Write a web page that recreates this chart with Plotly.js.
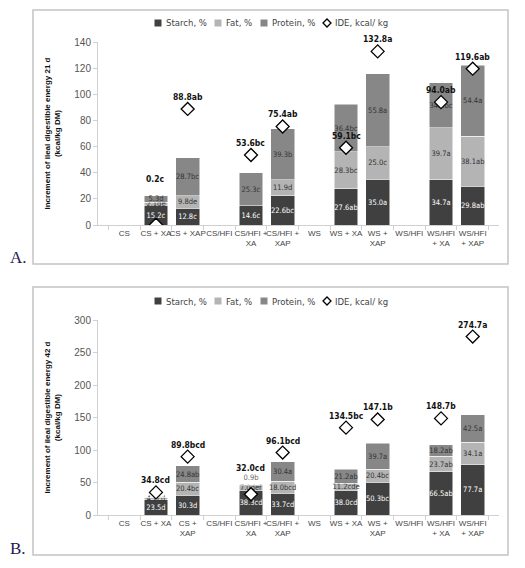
<!DOCTYPE html>
<html>
<head>
<meta charset="utf-8">
<script src="https://cdn.plot.ly/plotly-3.0.1.min.js"></script>
<style>
  body { margin: 0; background: #fff; }
  #chart { width: 525px; height: 568px; }
</style>
</head>
<body>
<div id="chart"></div>
<script>
// categories and tick labels
const categories = ["CS", "CS + XA", "CS + XAP", "CS/HFI", "CS/HFI + XA", "CS/HFI + XAP",
  "WS", "WS + XA", "WS + XAP", "WS/HFI", "WS/HFI + XA", "WS/HFI + XAP"];
const ticksA = ["CS", "CS + XA", "CS + XAP", "CS/HFI", "CS/HFI +<br>XA", "CS/HFI +<br>XAP",
  "WS", "WS + XA", "WS +<br>XAP", "WS/HFI", "WS/HFI<br>+ XA", "WS/HFI<br>+ XAP"];
const ticksB = ["CS", "CS + XA", "CS +<br>XAP", "CS/HFI", "CS/HFI +<br>XA", "CS/HFI +<br>XAP",
  "WS", "WS + XA", "WS +<br>XAP", "WS/HFI", "WS/HFI<br>+ XA", "WS/HFI<br>+ XAP"];

// panel A, 21 d
const starchA = [null, 15.2, 12.8, null, 14.6, 22.6, null, 27.6, 35.0, null, 34.7, 29.8];
const starchA_txt = ["", "15.2c", "12.8c", "", "14.6c", "22.6bc", "", "27.6ab", "35.0a", "", "34.7a", "29.8ab"];
const fatA = [null, 2.1, 9.8, null, 0, 11.9, null, 28.3, 25.0, null, 39.7, 38.1];
const fatA_txt = ["", "2.1de", "9.8de", "", "", "11.9d", "", "28.3bc", "25.0c", "", "39.7a", "38.1ab"];
const proteinA = [null, 5.3, 28.7, null, 25.3, 39.3, null, 36.4, 55.8, null, 34.3, 54.4];
const proteinA_txt = ["", "5.3d", "28.7bc", "", "25.3c", "39.3b", "", "36.4bc", "55.8a", "", "34.3bc", "54.4a"];
const ideA = [null, 0.2, 88.8, null, 53.6, 75.4, null, 59.1, 132.8, null, 94.0, 119.6];
const ideA_txt = ["", "0.2c", "88.8ab", "", "53.6bc", "75.4ab", "", "59.1bc", "132.8a", "", "94.0ab", "119.6ab"];

// panel B, 42 d
const starchB = [null, 23.5, 30.3, null, 38.3, 33.7, null, 38.0, 50.3, null, 66.5, 77.7];
const starchB_txt = ["", "23.5d", "30.3d", "", "38.3cd", "33.7cd", "", "38.0cd", "50.3bc", "", "66.5ab", "77.7a"];
const fatB = [null, 4.2, 20.4, null, 7.0, 18.0, null, 11.2, 20.4, null, 23.7, 34.1];
const fatB_txt = ["", "4.2cd", "20.4bc", "", "7.0def", "18.0bcd", "", "11.2cde", "20.4bc", "", "23.7ab", "34.1a"];
const proteinB = [null, 0, 24.8, null, 0.9, 30.4, null, 21.2, 39.7, null, 18.2, 42.5];
const proteinB_txt = ["", "", "24.8ab", "", "0.9b", "30.4a", "", "21.2ab", "39.7a", "", "18.2ab", "42.5a"];
const ideB = [null, 34.8, 89.8, null, 32.0, 96.1, null, 134.5, 147.1, null, 148.7, 274.7];
const ideB_txt = ["", "34.8cd", "89.8bcd", "", "32.0cd", "96.1bcd", "", "134.5bc", "147.1b", "", "148.7b", "274.7a"];

const legendNames = ["Starch, %", "Fat, %", "Protein, %", "IDE, kcal/ kg"];

const cStarch = "#404040", cFat = "#b4b4b4", cProtein = "#878787";
const narrow = "DejaVu Sans Condensed, Liberation Sans, sans-serif";
const sans = "Liberation Sans, sans-serif";

const W = 525, H = 568, M = { l: 98, r: 26, t: 42, b: 53 };
const px2x = px => (px - M.l) / (W - M.l - M.r);
const px2y = py => (H - M.b - py) / (H - M.t - M.b);

function panel(xa, ya, starch, starchTxt, fat, fatTxt, protein, proteinTxt, ide) {
  const common = { type: "bar", x: categories, xaxis: xa, yaxis: ya, showlegend: false,
    textposition: "inside", insidetextanchor: "middle", textangle: 0, constraintext: "none",
    hoverinfo: "skip", textfont: { family: narrow, size: 7.5 } };
  return [
    Object.assign({}, common, { y: starch, text: starchTxt, name: legendNames[0],
      marker: { color: cStarch, line: { color: "#fff", width: 0.5 } },
      insidetextfont: { family: narrow, size: 7.5, color: "#fff" } }),
    Object.assign({}, common, { y: fat, text: fatTxt, name: legendNames[1],
      marker: { color: cFat, line: { color: "#fff", width: 0.5 } },
      insidetextfont: { family: narrow, size: 7.5, color: "#333" } }),
    Object.assign({}, common, { y: protein, text: proteinTxt, name: legendNames[2],
      textposition: protein.map(v => (v !== null && v < 2 ? "outside" : "inside")),
      marker: { color: cProtein, line: { color: "#fff", width: 0.5 } },
      insidetextfont: { family: narrow, size: 7.5, color: "#333" },
      outsidetextfont: { family: narrow, size: 7.5, color: "#666" } }),
    { type: "scatter", mode: "markers", x: categories, y: ide, xaxis: xa, yaxis: ya,
      name: legendNames[3], showlegend: false, hoverinfo: "skip",
      marker: { symbol: "diamond", size: 10, color: "#fff", line: { color: "#000", width: 1.3 } } }
  ];
}

// label goes above the bar when the diamond sits inside the starch part
function ideLabels(xa, ya, starch, fat, protein, ide, txt) {
  const out = [];
  categories.forEach((c, i) => {
    if (ide[i] === null) return;
    const total = (starch[i] || 0) + (fat[i] || 0) + (protein[i] || 0);
    const y = ide[i] < starch[i] ? total : ide[i];
    out.push({ x: c, y: y, xref: xa, yref: ya, text: "<b>" + txt[i] + "</b>", showarrow: false,
      yanchor: "bottom", yshift: ide[i] < starch[i] ? 10 : 5,
      font: { family: narrow, size: 8.5, color: "#111" } });
  });
  return out;
}

// compact legend row like the original (square / diamond + text)
const legendX = [158, 218, 264, 327];
const legendColors = [cStarch, cFat, cProtein, null];
function legendRow(py) {
  const shapes = [], anns = [];
  legendNames.forEach((name, i) => {
    const base = { xref: "paper", yref: "paper", xsizemode: "pixel", ysizemode: "pixel",
      xanchor: px2x(legendX[i]), yanchor: px2y(py) };
    if (legendColors[i]) {
      shapes.push(Object.assign(base, { type: "rect", x0: -3.5, x1: 3.5, y0: -3.5, y1: 3.5,
        fillcolor: legendColors[i], line: { width: 0 } }));
    } else {
      shapes.push(Object.assign(base, { type: "path", path: "M -4 0 L 0 4 L 4 0 L 0 -4 Z",
        fillcolor: "#fff", line: { color: "#000", width: 1.3 } }));
    }
    anns.push({ xref: "paper", yref: "paper", x: px2x(legendX[i] + 6), y: px2y(py), text: name,
      showarrow: false, xanchor: "left", yanchor: "middle",
      font: { family: narrow, size: 9.5, color: "#444" } });
  });
  return { shapes, anns };
}
const legA = legendRow(23), legB = legendRow(301);

const traces = panel("x", "y", starchA, starchA_txt, fatA, fatA_txt, proteinA, proteinA_txt, ideA)
  .concat(panel("x2", "y2", starchB, starchB_txt, fatB, fatB_txt, proteinB, proteinB_txt, ideB));

const xBase = {
  type: "category", categoryorder: "array", categoryarray: categories, tickvals: categories,
  showline: true, linecolor: "#d0d0d0", linewidth: 1, ticks: "outside", tickson: "boundaries",
  ticklen: 4, tickcolor: "#d0d0d0", showgrid: false, zeroline: false, fixedrange: true,
  tickfont: { family: sans, size: 8, color: "#444" }, tickangle: 0
};
const yBase = {
  showline: true, linecolor: "#d0d0d0", ticks: "outside", ticklen: 4, tickcolor: "#d0d0d0",
  showgrid: false, zeroline: false, fixedrange: true,
  tickfont: { family: sans, size: 10, color: "#555" }
};
const yTitleFont = { family: sans, size: 8, color: "#111" };

const boxLine = { color: "#c4c4c4", width: 1.5 };

const layout = {
  width: W,
  height: H,
  margin: M,
  paper_bgcolor: "#fff",
  plot_bgcolor: "#fff",
  barmode: "stack",
  bargap: 0.25,
  showlegend: false,
  uniformtext: { mode: "show", minsize: 7.5 },
  xaxis: Object.assign({}, xBase, { anchor: "y", ticktext: ticksA }),
  yaxis: Object.assign({}, yBase, { domain: [0.613, 1], range: [0, 140], dtick: 20, anchor: "x",
    title: { text: "<b>Increment of ileal digestible energy 21 d<br>(kcal/kg DM)</b>", font: yTitleFont, standoff: 12 } }),
  xaxis2: Object.assign({}, xBase, { anchor: "y2", ticktext: ticksB }),
  yaxis2: Object.assign({}, yBase, { domain: [0, 0.412], range: [0, 300], dtick: 50, anchor: "x2",
    title: { text: "<b>Increment of ileal digestible energy 42 d<br>(kcal/kg DM)</b>", font: yTitleFont, standoff: 12 } }),
  shapes: [
    { type: "rect", xref: "paper", yref: "paper", x0: px2x(33), x1: px2x(508), y0: px2y(264), y1: px2y(10), line: boxLine },
    { type: "rect", xref: "paper", yref: "paper", x0: px2x(33), x1: px2x(508), y0: px2y(555), y1: px2y(287), line: boxLine }
  ].concat(legA.shapes, legB.shapes),
  annotations: [
    { xref: "paper", yref: "paper", x: px2x(18), y: px2y(257), text: "A.", showarrow: false,
      xanchor: "center", yanchor: "middle", font: { family: "Liberation Serif, serif", size: 17, color: "#1c1c50" } },
    { xref: "paper", yref: "paper", x: px2x(18), y: px2y(548), text: "B.", showarrow: false,
      xanchor: "center", yanchor: "middle", font: { family: "Liberation Serif, serif", size: 17, color: "#1c1c50" } }
  ].concat(legA.anns, legB.anns)
   .concat(ideLabels("x", "y", starchA, fatA, proteinA, ideA, ideA_txt))
   .concat(ideLabels("x2", "y2", starchB, fatB, proteinB, ideB, ideB_txt))
};

Plotly.newPlot("chart", traces, layout, { displayModeBar: false, staticPlot: true });
</script>
</body>
</html>
